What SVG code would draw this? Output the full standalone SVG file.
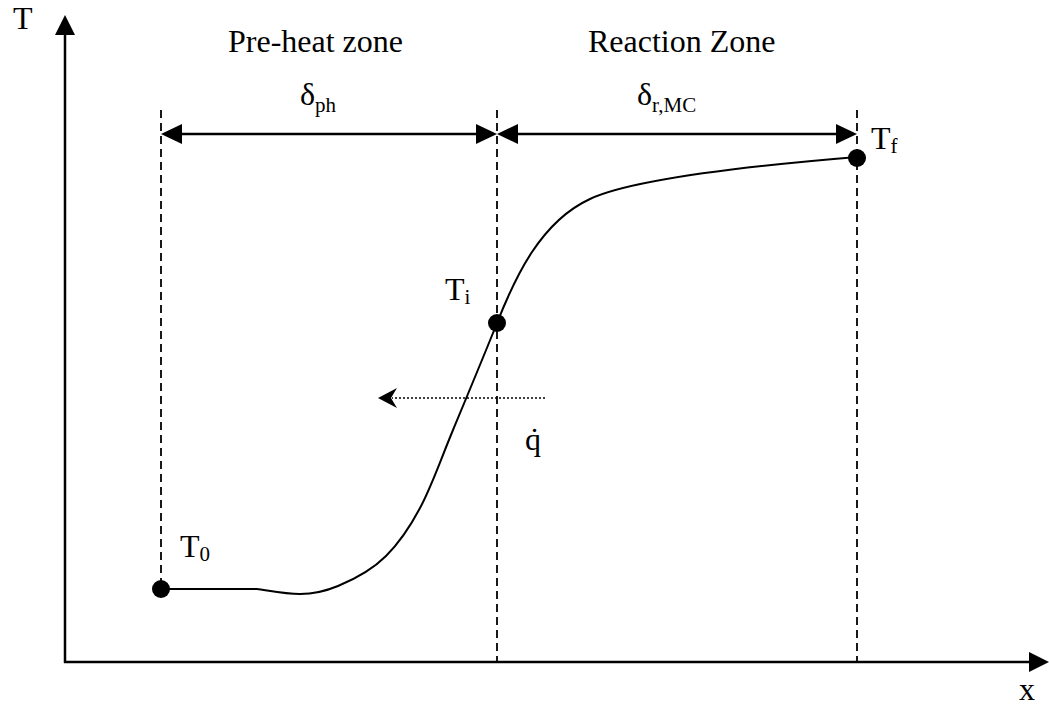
<svg xmlns="http://www.w3.org/2000/svg" width="1049" height="707" viewBox="0 0 1049 707">
<defs>
<style>
text{font-family:"Liberation Serif","Times New Roman","DejaVu Serif",serif;font-size:32px;fill:#000}
.sub{font-size:21px}
.ax{stroke:#000;stroke-width:2.5;fill:none}
.dash{stroke:#000;stroke-width:1.8;stroke-dasharray:8,5;fill:none}
.dim{stroke:#000;stroke-width:2.5;fill:none}
.curve{stroke:#000;stroke-width:2;fill:none}
</style>
</defs>
<rect width="1049" height="707" fill="#fff"/>
<g id="connectors">
<line class="ax" x1="65" y1="663" x2="65" y2="34"/>
<polygon points="65,15 55,35 75,35" fill="#000"/>
<line class="ax" x1="64" y1="662" x2="1030" y2="662"/>
<polygon points="1049,662 1029,652 1029,672" fill="#000"/>
<line class="dash" x1="161" y1="110" x2="161" y2="589"/>
<line class="dash" x1="497" y1="110" x2="497" y2="662"/>
<line class="dash" x1="857" y1="110" x2="857" y2="662"/>
<line class="dim" x1="180" y1="134" x2="478" y2="134"/>
<polygon points="161,134 182,124 182,144" fill="#000"/>
<polygon points="497,134 476,124 476,144" fill="#000"/>
<line class="dim" x1="516" y1="134" x2="838" y2="134"/>
<polygon points="497,134 518,124 518,144" fill="#000"/>
<polygon points="857,134 836,124 836,144" fill="#000"/>
<path class="curve" d="M161,589 L257,589 C266,590 284,594 300,594 C316,594 326,591 338,586 C355,579 372,570 386,556 C400,542 411,525 420,508 C431.7,486.3 440.2,460.8 453,430 C465.8,399.2 485.3,352.5 497,323 C514.5,278.8 540,222 590,199 C622,184 700,170 857,157"/>
<line x1="545" y1="398" x2="392" y2="398" stroke="#000" stroke-width="1.5" stroke-dasharray="2,2"/>
<polygon points="378,398 397,388 391,398 397,408" fill="#000"/>
</g>
<g id="T0"><circle cx="161" cy="589" r="9" fill="#000"/><text x="180" y="557">T<tspan class="sub" dy="4">0</tspan></text></g>
<g id="Ti"><circle cx="497" cy="323" r="9" fill="#000"/><text x="445" y="300">T<tspan class="sub" dy="4">i</tspan></text></g>
<g id="Tf"><circle cx="857" cy="158" r="9" fill="#000"/><text x="871" y="149">T<tspan class="sub" dy="4">f</tspan></text></g>
<g id="labels">
<text x="13" y="29">T</text>
<text x="1019" y="700">x</text>
<text x="228" y="52">Pre-heat zone</text>
<text x="588" y="52">Reaction Zone</text>
<text x="300" y="105">δ<tspan class="sub" dy="7">ph</tspan></text>
<text x="637" y="105">δ<tspan class="sub" font-size="19px" dy="7">r,MC</tspan></text>
<text x="525" y="450">q̇</text>
</g>
</svg>
